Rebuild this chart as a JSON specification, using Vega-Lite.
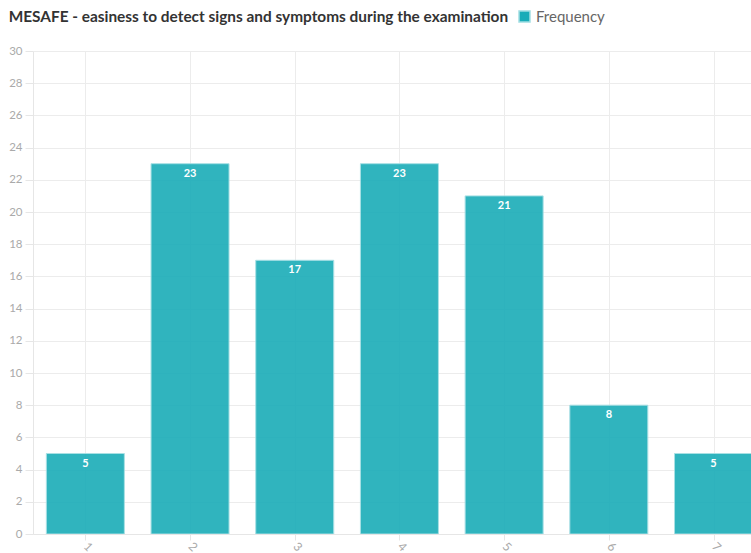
{
  "$schema": "https://vega.github.io/schema/vega-lite/v6.json",
  "width": 718,
  "height": 483,
  "autosize": {"type": "none"},
  "padding": {"left": 33, "top": 51, "right": 0, "bottom": 19},
  "background": "white",
  "title": {
    "text": "MESAFE - easiness to detect signs and symptoms during the examination",
    "anchor": "start",
    "offset": 0,
    "dy": 16,
    "font": "Lato",
    "fontSize": 15.4,
    "fontWeight": "bold",
    "color": "#333333"
  },
  "data": {
    "values": [
      {"score": 1, "count": 5},
      {"score": 2, "count": 23},
      {"score": 3, "count": 17},
      {"score": 4, "count": 23},
      {"score": 5, "count": 21},
      {"score": 6, "count": 8},
      {"score": 7, "count": 5}
    ]
  },
  "config": {
    "view": {"stroke": null},
    "font": "Lato",
    "axis": {
      "gridColor": "#ececec",
      "domainColor": "#e6e6e6",
      "tickColor": "#e6e6e6",
      "labelColor": "#aaaaaa",
      "labelFont": "Lato",
      "labelFontSize": 11.5,
      "labelOverlap": false,
      "title": null
    }
  },
  "encoding": {
    "x": {
      "field": "score",
      "type": "quantitative",
      "scale": {"domain": [0.5, 7.358], "nice": false, "zero": false, "padding": 0},
      "axis": {"values": [1, 2, 3, 4, 5, 6, 7], "format": "d", "labelAngle": 45, "tickSize": 6, "labelPadding": 4, "grid": true, "labelAlign": "left", "labelBaseline": "middle", "labelFontSize": 12}
    },
    "y": {
      "field": "count",
      "type": "quantitative",
      "scale": {"domain": [0, 30], "nice": false},
      "axis": {"values": [0, 2, 4, 6, 8, 10, 12, 14, 16, 18, 20, 22, 24, 26, 28, 30], "tickSize": 8, "labelPadding": 3, "grid": true}
    }
  },
  "layer": [
    {
      "mark": {"type": "bar", "size": 78, "clip": true, "opacity": 0.9, "stroke": "#9fdde2", "strokeWidth": 1},
      "encoding": {
        "color": {
          "datum": "Frequency",
          "type": "nominal",
          "scale": {"range": ["#1aacb8"]},
          "legend": {
            "title": null,
            "orient": "none",
            "legendX": 484,
            "legendY": -42,
            "symbolType": "square",
            "symbolSize": 120,
            "symbolOpacity": 1,
            "labelFont": "Lato",
            "labelFontSize": 15,
            "labelColor": "#666666",
            "labelOffset": 4
          }
        }
      }
    },
    {
      "mark": {"type": "text", "color": "white", "fontWeight": "bold", "fontSize": 11, "baseline": "middle", "dy": 10, "font": "Lato"},
      "encoding": {
        "text": {"field": "count", "type": "quantitative"}
      }
    }
  ]
}
